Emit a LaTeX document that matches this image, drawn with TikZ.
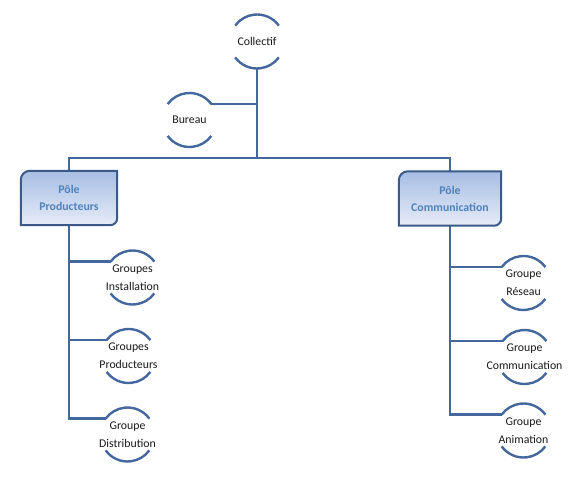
\documentclass[tikz,border=0pt]{standalone}
\usepackage{fontspec}
\setmainfont{Carlito}
\usetikzlibrary{calc}
\definecolor{lineblue}{HTML}{44689E}
\definecolor{boxborder}{HTML}{3B5A8A}
\definecolor{boxtop}{HTML}{A7BDE3}
\definecolor{boxbot}{HTML}{E6ECF8}
\definecolor{poletext}{HTML}{4F81BD}
\tikzset{
  conn/.style={draw=lineblue, line width=2.6pt},
  arcline/.style={draw=lineblue, line width=2.4pt},
  grp/.style={align=center, inner sep=0pt, font=\fontsize{11.8}{18}\selectfont, text=black!90},
  pole/.style={align=center, inner sep=0pt, minimum height=54pt, font=\bfseries\fontsize{11.8}{17}\selectfont, text=poletext},
  boxdraw/.style={draw=boxborder, line width=2pt, top color=boxtop, bottom color=boxbot}
}
\begin{document}
\begin{tikzpicture}[x=1pt,y=1pt]
\useasboundingbox (0,0) rectangle (580,483);
% group nodes
\node[grp] (coll) at (257,441.5) {Collectif};
\node[grp] (bur) at (189.5,363) {Bureau};
\node[grp] (inst) at (132.5,205.5) {Groupes\\Installation};
\node[grp] (gprod) at (128.5,127) {Groupes\\Producteurs};
\node[grp] (dist) at (127.5,48.5) {Groupe\\Distribution};
\node[grp] (res) at (523.5,200) {Groupe\\Réseau};
\node[grp] (comm) at (524.5,126) {Groupe\\Communication};
\node[grp] (anim) at (523.5,52.5) {Groupe\\Animation};
% pole boxes (drawn shapes)
\node[pole, minimum width=96pt] (pprod) at (69,285) {};
\node[pole, minimum width=102pt] (pcomm) at (450,284.5) {};
% connectors
\coordinate (collbot) at ([shift={(270:27)}]coll.center);
\coordinate (burend) at ([shift={(36:27)}]bur.center);
\coordinate (bar) at (257,325);
\draw[conn] (collbot) -- (bar);
\draw[conn] (burend) -- (burend -| coll);
\draw[conn] (pprod.north) |- (bar) -| (pcomm.north);
\foreach \n in {coll,bur,inst,gprod,dist,res,comm,anim}{
  \coordinate (\n-in) at ([shift={(144:27)}]\n.center);
}
\draw[conn] (pprod.south) |- (inst-in);
\draw[conn] (pprod.south) |- (gprod-in);
\draw[conn] (pprod.south) |- (dist-in);
\draw[conn] (pcomm.south) |- (res-in);
\draw[conn] (pcomm.south) |- (comm-in);
\draw[conn] (pcomm.south) |- (anim-in);
\foreach \n in {pprod,pcomm}{
  \draw[boxdraw] (\n.south west) -- ([yshift=-9pt]\n.north west) arc[start angle=180,end angle=90,radius=9pt]
    -- (\n.north east) -- ([yshift=7pt]\n.south east) arc[start angle=0,end angle=-90,radius=7pt] -- cycle;
}
\node[pole] at (pprod) {Pôle\\Producteurs};
\node[pole] at (pcomm) {Pôle\\Communication};
% arcs around group texts
\foreach \n in {coll,bur,inst,gprod,dist,res,comm,anim}{
  \draw[arcline] ([shift={(36:27)}]\n.center) arc[start angle=36,end angle=144,radius=27];
  \draw[arcline] ([shift={(216:27)}]\n.center) arc[start angle=216,end angle=324,radius=27];
}
\end{tikzpicture}
\end{document}
